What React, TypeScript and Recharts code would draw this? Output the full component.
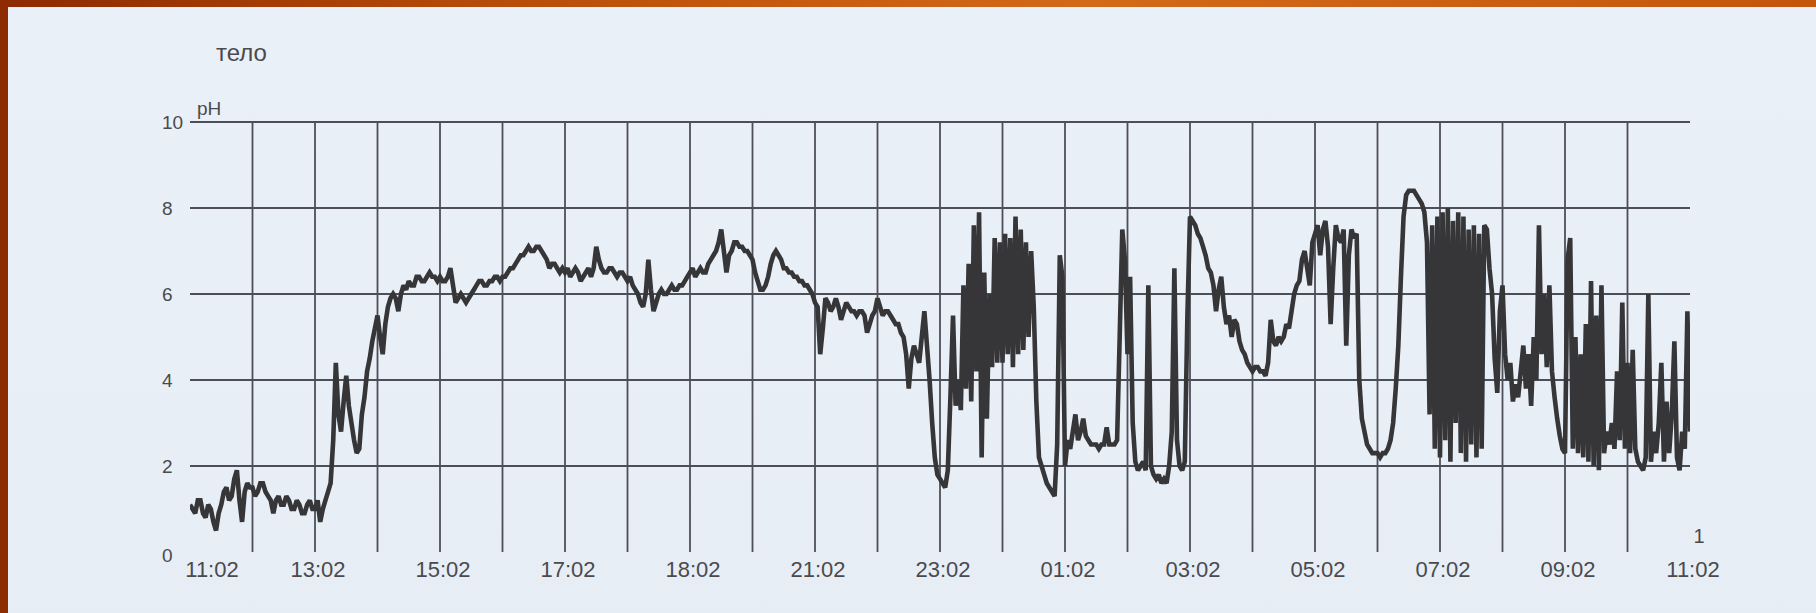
import React from 'react';
import { LineChart, Line, XAxis, YAxis, ReferenceLine } from 'recharts';

// x-axis tick labels, every 2 hours (as printed on the original recording)
const timeLabels = ['11:02', '13:02', '15:02', '17:02', '18:02', '21:02', '23:02', '01:02', '03:02', '05:02', '07:02', '09:02', '11:02'];
const timeTicks = [0, 2, 4, 6, 8, 10, 12, 14, 16, 18, 20, 22, 24];
const hourGrid = [1, 2, 3, 4, 5, 6, 7, 8, 9, 10, 11, 12, 13, 14, 15, 16, 17, 18, 19, 20, 21, 22, 23];
const phTicks = [0, 2, 4, 6, 8, 10];
const phGrid = [2, 4, 6, 8, 10];

// pH readings: one row per hour (from 11:02), 24 readings per hour (every 2.5 min)
const phHour00 = [1.1, 1.0, 0.9, 1.2, 1.2, 0.9, 0.8, 1.1, 1.0, 0.7, 0.5, 0.9, 1.1, 1.4, 1.5, 1.2, 1.3, 1.7, 1.9, 1.2, 0.7, 1.4, 1.6, 1.5];
const phHour01 = [1.5, 1.3, 1.4, 1.6, 1.6, 1.4, 1.3, 1.2, 0.9, 1.2, 1.3, 1.1, 1.1, 1.3, 1.2, 1.0, 1.0, 1.2, 1.1, 0.9, 0.9, 1.1, 1.2, 1.0];
const phHour02 = [1.0, 1.2, 0.7, 1.0, 1.2, 1.4, 1.6, 2.6, 4.4, 3.2, 2.8, 3.5, 4.1, 3.4, 3.0, 2.6, 2.3, 2.4, 3.2, 3.6, 4.2, 4.5, 4.9, 5.2];
const phHour03 = [5.5, 5.0, 4.6, 5.3, 5.7, 5.9, 6.0, 5.9, 5.6, 6.0, 6.2, 6.1, 6.3, 6.2, 6.2, 6.4, 6.4, 6.3, 6.3, 6.4, 6.5, 6.4, 6.4, 6.3];
const phHour04 = [6.4, 6.3, 6.3, 6.4, 6.6, 6.2, 5.8, 5.9, 6.0, 5.9, 5.8, 5.9, 6.0, 6.1, 6.2, 6.3, 6.3, 6.2, 6.2, 6.3, 6.3, 6.4, 6.4, 6.3];
const phHour05 = [6.4, 6.4, 6.5, 6.6, 6.6, 6.7, 6.8, 6.9, 6.9, 7.0, 7.1, 7.0, 7.0, 7.1, 7.1, 7.0, 6.9, 6.8, 6.6, 6.7, 6.7, 6.6, 6.5, 6.6];
const phHour06 = [6.5, 6.6, 6.4, 6.5, 6.6, 6.5, 6.3, 6.4, 6.5, 6.6, 6.4, 6.6, 7.1, 6.8, 6.6, 6.5, 6.5, 6.6, 6.6, 6.5, 6.4, 6.5, 6.5, 6.4];
const phHour07 = [6.3, 6.4, 6.2, 6.1, 6.0, 5.8, 5.7, 6.0, 6.8, 6.1, 5.6, 5.8, 6.0, 6.1, 6.0, 6.0, 6.1, 6.2, 6.1, 6.1, 6.2, 6.2, 6.3, 6.4];
const phHour08 = [6.5, 6.6, 6.4, 6.5, 6.6, 6.5, 6.5, 6.7, 6.8, 6.9, 7.0, 7.2, 7.5, 7.0, 6.5, 6.9, 7.0, 7.2, 7.2, 7.1, 7.1, 7.0, 7.0, 6.9];
const phHour09 = [6.8, 6.5, 6.3, 6.1, 6.1, 6.2, 6.4, 6.7, 6.9, 7.0, 6.9, 6.8, 6.6, 6.6, 6.5, 6.5, 6.4, 6.4, 6.3, 6.3, 6.2, 6.2, 6.1, 6.0];
const phHour10 = [5.8, 5.7, 4.6, 5.2, 5.9, 5.8, 5.6, 5.7, 5.9, 5.7, 5.4, 5.6, 5.8, 5.7, 5.6, 5.6, 5.5, 5.6, 5.6, 5.5, 5.1, 5.3, 5.5, 5.6];
const phHour11 = [5.9, 5.7, 5.5, 5.6, 5.6, 5.5, 5.4, 5.3, 5.3, 5.1, 5.0, 4.6, 3.8, 4.5, 4.8, 4.6, 4.4, 5.0, 5.6, 4.8, 4.0, 3.0, 2.2, 1.8];
const phHour12 = [1.7, 1.6, 1.5, 1.9, 3.6, 5.5, 3.4, 4.0, 3.3, 6.2, 3.8, 6.7, 3.5, 7.6, 4.2, 7.9, 2.2, 6.5, 3.1, 6.0, 4.3, 7.3, 4.4, 7.2];
const phHour13 = [4.4, 7.4, 4.6, 7.3, 4.3, 7.8, 4.6, 7.5, 4.7, 7.2, 5.0, 7.0, 5.7, 3.5, 2.2, 2.0, 1.8, 1.6, 1.5, 1.4, 1.3, 2.5, 6.9, 6.4];
const phHour14 = [2.0, 2.6, 2.4, 2.8, 3.2, 2.6, 2.8, 3.1, 2.7, 2.6, 2.5, 2.5, 2.5, 2.4, 2.5, 2.5, 2.9, 2.5, 2.5, 2.5, 2.6, 5.0, 7.5, 6.8];
const phHour15 = [4.6, 6.4, 3.0, 2.1, 1.9, 2.0, 2.1, 1.9, 6.2, 2.0, 1.8, 1.7, 1.8, 1.6, 1.7, 1.6, 2.0, 2.8, 6.6, 2.6, 2.0, 1.9, 2.1, 5.5];
const phHour16 = [7.8, 7.7, 7.6, 7.4, 7.3, 7.1, 6.9, 6.6, 6.5, 6.2, 5.6, 6.1, 6.4, 5.7, 5.3, 5.5, 5.0, 5.4, 5.3, 4.9, 4.7, 4.6, 4.4, 4.3];
const phHour17 = [4.2, 4.3, 4.3, 4.2, 4.2, 4.1, 4.4, 5.4, 4.9, 4.8, 5.0, 4.9, 5.0, 5.3, 5.2, 5.6, 6.0, 6.2, 6.3, 6.8, 7.0, 6.6, 6.2, 7.2];
const phHour18 = [7.4, 7.6, 6.9, 7.5, 7.7, 7.1, 5.3, 6.6, 7.6, 7.3, 7.2, 7.5, 4.8, 6.9, 7.5, 7.3, 7.4, 4.0, 3.1, 2.8, 2.5, 2.4, 2.3, 2.3];
const phHour19 = [2.3, 2.2, 2.3, 2.3, 2.4, 2.6, 3.0, 3.8, 4.8, 6.4, 7.8, 8.3, 8.4, 8.4, 8.4, 8.3, 8.2, 8.1, 7.9, 7.2, 3.2, 7.6, 2.4, 7.8];
const phHour20 = [2.2, 7.9, 2.6, 8.0, 2.1, 7.7, 3.0, 7.9, 2.3, 7.8, 2.1, 7.5, 2.5, 7.6, 2.2, 7.4, 2.4, 7.6, 7.5, 6.6, 6.0, 4.5, 3.7, 5.6];
const phHour21 = [6.2, 4.6, 4.0, 4.4, 3.5, 3.9, 3.6, 4.2, 4.8, 3.8, 4.6, 3.4, 5.0, 4.0, 7.6, 4.6, 6.0, 4.3, 6.2, 4.2, 3.6, 3.1, 2.7, 2.4];
const phHour22 = [2.3, 6.8, 7.3, 2.4, 5.0, 2.3, 4.6, 2.2, 5.3, 2.1, 6.3, 2.0, 5.5, 1.9, 6.2, 2.3, 2.8, 2.5, 3.0, 2.4, 4.2, 2.6, 5.8, 2.4];
const phHour23 = [4.4, 2.3, 4.7, 2.4, 2.1, 2.0, 1.9, 2.2, 6.0, 2.1, 2.8, 2.3, 3.0, 4.4, 2.1, 3.5, 2.3, 3.2, 4.9, 2.2, 1.9, 2.8, 2.4, 5.6, 2.8];

const phByHour = [
  phHour00, phHour01, phHour02, phHour03, phHour04, phHour05, phHour06, phHour07,
  phHour08, phHour09, phHour10, phHour11, phHour12, phHour13, phHour14, phHour15,
  phHour16, phHour17, phHour18, phHour19, phHour20, phHour21, phHour22, phHour23,
];
const READINGS_PER_HOUR = 24;

const data = phByHour.flatMap((row, h) => row.map((v, j) => ({ t: h + j / READINGS_PER_HOUR, ph: v })));

const FONT = '"Liberation Sans", Arial, sans-serif';
const INK = '#4a4a4e';
const GRID = '#4e4e58';

const XTick = (props: any) => {
  const { x, payload } = props;
  const idx = timeTicks.indexOf(payload.value);
  const label = timeLabels[idx];
  const dx = idx === 0 ? 22 : 3;
  return (
    <g>
      {idx === timeTicks.length - 1 && (
        <text x={x + dx + 6} y={543} textAnchor="middle" fontFamily={FONT} fontSize={20} fill={INK}>1</text>
      )}
      <text x={x + dx} y={577} textAnchor="middle" fontFamily={FONT} fontSize={22} fill={INK}>{label}</text>
    </g>
  );
};

const YTick = (props: any) => {
  const { y, payload } = props;
  const extra = payload.value === 0 ? 3 : 0;
  return (
    <text x={162} y={y + 7 + extra} textAnchor="start" fontFamily={FONT} fontSize={19} fill={INK}>{payload.value}</text>
  );
};

export default function App() {
  return (
    <div style={{ position: 'fixed', left: 0, top: 0, width: 1816, height: 613, overflow: 'hidden',
      background: 'linear-gradient(90deg, #8c2a02 0%, #b44a08 25%, #c85c10 45%, #d26a18 60%, #c4560c 100%)' }}>
      <div style={{ position: 'absolute', left: 8, top: 7, width: 1808, height: 606,
        background: 'linear-gradient(180deg, #eaf0f7 0%, #e9eff6 60%, #e6edf5 100%)' }} />
      <div style={{ position: 'absolute', left: 0, top: 0 }}>
        <LineChart width={1816} height={613} data={data}
          margin={{ top: 122, right: 126, left: 162, bottom: 31 }}>
          <XAxis dataKey="t" type="number" domain={[0, 24]} ticks={timeTicks} interval={0}
            height={30} axisLine={false} tickLine={false} tick={(p: any) => <XTick {...p} />} allowDataOverflow />
          <YAxis type="number" domain={[0, 10]} ticks={phTicks} interval={0}
            width={28} axisLine={false} tickLine={false} tick={(p: any) => <YTick {...p} />} allowDataOverflow />
          {phGrid.map((v) => (
            <ReferenceLine key={'h' + v} y={v} stroke={GRID} strokeWidth={2} />
          ))}
          {hourGrid.map((h) => (
            <ReferenceLine key={'v' + h} x={h} stroke={GRID} strokeWidth={1.8} />
          ))}
          <Line type="linear" dataKey="ph" stroke="#363638" strokeWidth={4.6} dot={false}
            isAnimationActive={false} strokeLinejoin="miter" strokeMiterlimit={2} />
        </LineChart>
      </div>
      <svg width={1816} height={613} style={{ position: 'absolute', left: 0, top: 0, pointerEvents: 'none' }}>
        <text x={216} y={61} fontFamily={FONT} fontSize={24} fill={INK}>тело</text>
        <text x={197} y={115} fontFamily={FONT} fontSize={19} fill={INK}>pH</text>
      </svg>
    </div>
  );
}
